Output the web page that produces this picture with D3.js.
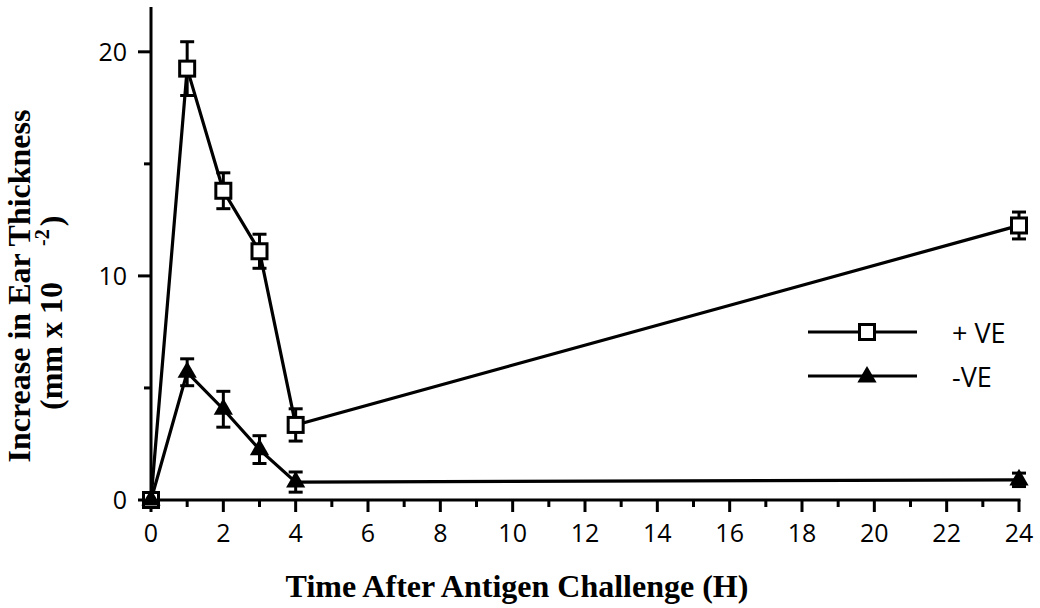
<!DOCTYPE html>
<html>
<head>
<meta charset="utf-8">
<script src="https://cdn.jsdelivr.net/npm/d3@7"></script>
<style>
  html, body { margin: 0; padding: 0; background: #fff; }
  svg { display: block; }
</style>
</head>
<body>
<svg id="chart" width="1040" height="608"></svg>
<script>
// Time points (hours after antigen challenge)
const hours = [0, 1, 2, 3, 4, 24];

// Increase in ear thickness (mm x 10^-2), mean and SEM
const plusVE = [0, 19.25, 13.8, 11.1, 3.35, 12.25];
const plusSEM = [0, 1.2, 0.8, 0.76, 0.72, 0.6];
const minusVE = [0, 5.7, 4.05, 2.25, 0.8, 0.9];
const minusSEM = [0, 0.6, 0.8, 0.62, 0.45, 0.3];

// Axis ticks
const xMajorTicks = [0, 2, 4, 6, 8, 10, 12, 14, 16, 18, 20, 22, 24];
const xMinorTicks = [1, 3, 5, 7, 9, 11, 13, 15, 17, 19, 21, 23];
const yMajorTicks = [0, 10, 20];
const yMinorTicks = [5, 15];

const legendLabels = ["+ VE", "-VE"];

const svg = d3.select("#chart");
const tickFont = "'Open Sans', 'DejaVu Sans', sans-serif";
const titleFont = "'Liberation Serif', 'Times New Roman', serif";

const x = d3.scaleLinear().domain([0, 24]).range([151, 1019]);
const y = d3.scaleLinear().domain([0, 22]).range([500, 7]);

// ---- axes ----
const axes = svg.append("g").attr("stroke", "#000").attr("stroke-width", 3);
axes.append("line").attr("x1", x(0)).attr("x2", x(0)).attr("y1", y(22)).attr("y2", y(0) + 1.5);
axes.append("line").attr("x1", x(0) - 1.5).attr("x2", x(24) + 1.5).attr("y1", y(0)).attr("y2", y(0));

axes.selectAll(".xmaj").data(xMajorTicks).join("line")
  .attr("x1", d => x(d)).attr("x2", d => x(d))
  .attr("y1", y(0)).attr("y2", y(0) + 12);
axes.selectAll(".xmin").data(xMinorTicks).join("line")
  .attr("x1", d => x(d)).attr("x2", d => x(d))
  .attr("y1", y(0)).attr("y2", y(0) + 7);
axes.selectAll(".ymaj").data(yMajorTicks).join("line")
  .attr("x1", x(0) - 13).attr("x2", x(0))
  .attr("y1", d => y(d)).attr("y2", d => y(d));
axes.selectAll(".ymin").data(yMinorTicks).join("line")
  .attr("x1", x(0) - 7).attr("x2", x(0))
  .attr("y1", d => y(d)).attr("y2", d => y(d));

svg.append("g").selectAll("text").data(xMajorTicks).join("text")
  .attr("x", d => x(d)).attr("y", 542)
  .attr("text-anchor", "middle")
  .attr("font-family", tickFont).attr("font-size", 25)
  .text(d => d);

svg.append("g").selectAll("text").data(yMajorTicks).join("text")
  .attr("x", 127).attr("y", d => y(d) + 9)
  .attr("text-anchor", "end")
  .attr("font-family", tickFont).attr("font-size", 25)
  .text(d => d);

// ---- axis titles ----
svg.append("text")
  .attr("x", 517).attr("y", 597)
  .attr("text-anchor", "middle")
  .attr("font-family", titleFont).attr("font-weight", "bold").attr("font-size", 32)
  .text("Time After Antigen Challenge (H)");

svg.append("text")
  .attr("transform", "translate(30,286) rotate(-90)")
  .attr("text-anchor", "middle")
  .attr("font-family", titleFont).attr("font-weight", "bold").attr("font-size", 32)
  .text("Increase in Ear Thickness");

const unit = svg.append("text")
  .attr("transform", "translate(62,410) rotate(-90)")
  .attr("font-family", titleFont).attr("font-weight", "bold").attr("font-size", 32);
unit.append("tspan").text("(mm x 10");
unit.append("tspan").attr("dx", 36).attr("dy", -13).attr("font-size", 20).text("-2");
unit.append("tspan").attr("dx", 3).attr("dy", 13).text(")");

// ---- series ----
const plusData = hours.map((h, i) => ({ h, v: plusVE[i], e: plusSEM[i] }));
const minusData = hours.map((h, i) => ({ h, v: minusVE[i], e: minusSEM[i] }));

const line = d3.line().x(d => x(d.h)).y(d => y(d.v));

function errorBars(g, data) {
  const eb = g.append("g").attr("stroke", "#000").attr("stroke-width", 3);
  const withErr = data.filter(d => d.e > 0);
  eb.selectAll(".v").data(withErr).join("line")
    .attr("x1", d => x(d.h)).attr("x2", d => x(d.h))
    .attr("y1", d => y(d.v + d.e)).attr("y2", d => y(d.v - d.e));
  eb.selectAll(".t").data(withErr).join("line")
    .attr("x1", d => x(d.h) - 7).attr("x2", d => x(d.h) + 7)
    .attr("y1", d => y(d.v + d.e)).attr("y2", d => y(d.v + d.e));
  eb.selectAll(".b").data(withErr).join("line")
    .attr("x1", d => x(d.h) - 7).attr("x2", d => x(d.h) + 7)
    .attr("y1", d => y(d.v - d.e)).attr("y2", d => y(d.v - d.e));
}

const series = svg.append("g");
series.append("path").datum(plusData)
  .attr("d", line).attr("fill", "none").attr("stroke", "#000").attr("stroke-width", 3.2);
series.append("path").datum(minusData)
  .attr("d", line).attr("fill", "none").attr("stroke", "#000").attr("stroke-width", 3.2);
errorBars(series, plusData);
errorBars(series, minusData);

const sq = 15;
const triangle = d3.symbol().type(d3.symbolTriangle).size(160);

series.append("g").selectAll("rect").data(plusData).join("rect")
  .attr("x", d => x(d.h) - sq / 2).attr("y", d => y(d.v) - sq / 2)
  .attr("width", sq).attr("height", sq)
  .attr("fill", "#fff").attr("stroke", "#000").attr("stroke-width", 3);

series.append("g").selectAll("path").data(minusData).join("path")
  .attr("transform", d => `translate(${x(d.h)},${y(d.v)})`)
  .attr("d", triangle).attr("fill", "#000");

// ---- legend ----
const legend = svg.append("g");
const legendRows = [332, 376];
legendRows.forEach(ly => {
  legend.append("line").attr("x1", 808).attr("x2", 917).attr("y1", ly).attr("y2", ly)
    .attr("stroke", "#000").attr("stroke-width", 3);
});
legend.append("rect")
  .attr("x", 867 - sq / 2).attr("y", legendRows[0] - sq / 2)
  .attr("width", sq).attr("height", sq)
  .attr("fill", "#fff").attr("stroke", "#000").attr("stroke-width", 3);
legend.append("path")
  .attr("transform", `translate(867,${legendRows[1] + 1})`)
  .attr("d", triangle).attr("fill", "#000");
legend.selectAll("text").data(legendLabels).join("text")
  .attr("x", 952).attr("y", (d, i) => legendRows[i] + 11)
  .attr("font-family", tickFont).attr("font-size", 27)
  .text(d => d);
</script>
</body>
</html>
